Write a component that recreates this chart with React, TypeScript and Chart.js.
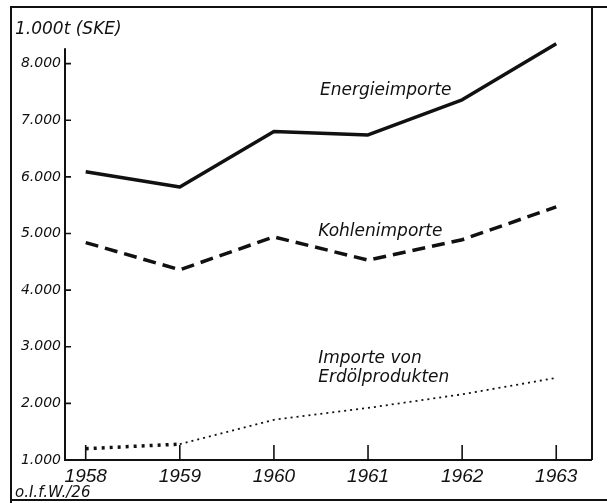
import React, { useEffect, useRef } from "react";
import { Chart, registerables } from "chart.js";

Chart.register(...registerables);

const years = [1958, 1959, 1960, 1961, 1962, 1963];
const energieimporte = [6090, 5820, 6800, 6740, 7360, 8350];
const kohlenimporte = [4840, 4360, 4940, 4530, 4890, 5470];
const erdoelprodukte = [1200, 1280, 1710, 1920, 2160, 2450];

const yTickValues = [1000, 2000, 3000, 4000, 5000, 6000, 7000, 8000];
const yTickLabels = ["1.000", "2.000", "3.000", "4.000", "5.000", "6.000", "7.000", "8.000"];
const xTickLabels = ["1958", "1959", "1960", "1961", "1962", "1963"];

const unitLabel = "1.000t (SKE)";
const sourceLabel = "o.I.f.W./26";
const seriesLabels = [
  { text: "Energieimporte", x: 1960.49, y: 7450 },
  { text: "Kohlenimporte", x: 1960.47, y: 4960 },
  { text: "Importe von", x: 1960.47, y: 2720 },
  { text: "Erdölprodukten", x: 1960.47, y: 2380 },
];

const INK = "#111111";
const LABEL_FONT = "italic 17px 'DejaVu Sans', sans-serif";

const decorPlugin = {
  id: "decor",
  afterDraw(chart: any) {
    const ctx = chart.ctx;
    const { left, right, bottom } = chart.chartArea;
    const xs = chart.scales.x;
    const ys = chart.scales.y;
    const W = chart.width;
    const H = chart.height;
    ctx.save();
    ctx.strokeStyle = INK;
    ctx.fillStyle = INK;
    ctx.lineCap = "butt";

    // outer frame
    ctx.lineWidth = 2;
    ctx.beginPath();
    ctx.moveTo(11, H);
    ctx.lineTo(11, 7);
    ctx.lineTo(W, 7);
    ctx.moveTo(right, 7);
    ctx.lineTo(right, bottom);
    ctx.moveTo(11, H - 3);
    ctx.lineTo(W, H - 3);
    ctx.stroke();

    // axes
    ctx.lineWidth = 2;
    ctx.beginPath();
    ctx.moveTo(left, ys.getPixelForValue(8270));
    ctx.lineTo(left, bottom);
    ctx.lineTo(right, bottom);
    ctx.stroke();

    // y tick marks
    ctx.lineWidth = 1.6;
    ctx.beginPath();
    yTickValues.forEach((v) => {
      const py = ys.getPixelForValue(v);
      ctx.moveTo(left, py);
      ctx.lineTo(left + 6, py);
    });
    // x tick marks
    years.forEach((yr) => {
      const px = xs.getPixelForValue(yr);
      ctx.moveTo(px, bottom);
      ctx.lineTo(px, bottom - 15);
    });
    ctx.stroke();

    // texts
    ctx.textBaseline = "alphabetic";
    ctx.textAlign = "left";
    ctx.font = "italic 17px 'DejaVu Sans', sans-serif";
    ctx.fillText(unitLabel, 15, 34);
    ctx.font = "italic 15px 'DejaVu Sans', sans-serif";
    ctx.fillText(sourceLabel, 15, 497);

    ctx.font = LABEL_FONT;
    seriesLabels.forEach((l) => {
      ctx.fillText(l.text, xs.getPixelForValue(l.x), ys.getPixelForValue(l.y));
    });
    ctx.restore();
  },
};

export default function App() {
  const ref = useRef<HTMLCanvasElement | null>(null);
  useEffect(() => {
    if (!ref.current) return;
    const toPts = (arr: number[]) => arr.map((v, i) => ({ x: years[i], y: v }));
    const chart = new Chart(ref.current, {
      type: "line",
      data: {
        datasets: [
          {
            label: "Energieimporte",
            data: toPts(energieimporte),
            borderColor: INK,
            borderWidth: 3.5,
            pointRadius: 0,
            tension: 0,
            borderJoinStyle: "round",
          },
          {
            label: "Kohlenimporte",
            data: toPts(kohlenimporte),
            borderColor: INK,
            borderWidth: 3.5,
            borderDash: [13, 7],
            pointRadius: 0,
            tension: 0,
          },
          {
            label: "Importe von Erdölprodukten",
            data: toPts(erdoelprodukte),
            borderColor: INK,
            borderWidth: 1.8,
            pointRadius: 0,
            tension: 0,
            segment: {
              borderDash: (c: any) => (c.p0DataIndex === 0 ? [3, 5] : [2, 4]),
              borderWidth: (c: any) => (c.p0DataIndex === 0 ? 3.5 : 1.8),
            },
          },
        ],
      } as any,
      options: {
        responsive: false,
        animation: false,
        layout: { padding: { left: 0, right: 15, top: 7, bottom: 0 } },
        plugins: { legend: { display: false }, tooltip: { enabled: false } },
        scales: {
          x: {
            type: "linear",
            min: 1957.78,
            max: 1963.38,
            grid: { display: false, drawTicks: false },
            border: { display: false },
            afterBuildTicks: (s: any) => {
              s.ticks = years.map((v) => ({ value: v }));
            },
            afterFit: (s: any) => {
              s.height = 43;
              s.paddingLeft = 0;
              s.paddingRight = 0;
            },
            ticks: {
              autoSkip: false,
              maxRotation: 0,
              padding: 5,
              color: INK,
              font: { family: "'Liberation Sans', sans-serif", size: 19, style: "italic" },
              callback: (_v: any, i: number) => xTickLabels[i],
            },
          },
          y: {
            type: "linear",
            min: 1000,
            max: 9000,
            grid: { display: false, drawTicks: false },
            border: { display: false },
            afterBuildTicks: (s: any) => {
              s.ticks = yTickValues.map((v) => ({ value: v }));
            },
            afterFit: (s: any) => {
              s.width = 65;
              s.paddingTop = 0;
              s.paddingBottom = 0;
            },
            ticks: {
              autoSkip: false,
              padding: 4,
              color: INK,
              font: { family: "'DejaVu Sans', sans-serif", size: 14, style: "italic" },
              callback: (_v: any, i: number) => yTickLabels[i],
            },
          },
        },
      } as any,
      plugins: [decorPlugin],
    });
    return () => chart.destroy();
  }, []);
  return (
    <div style={{ position: "absolute", left: 0, top: 0, width: 607, height: 503, background: "#fff" }}>
      <canvas ref={ref} width={607} height={503} style={{ width: 607, height: 503 }} />
    </div>
  );
}
